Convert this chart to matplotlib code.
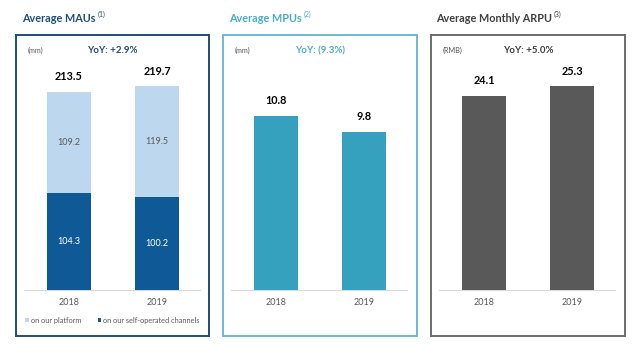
import matplotlib
matplotlib.use('Agg')
import matplotlib.pyplot as plt

plt.rcParams['font.family'] = ['Lato', 'DejaVu Sans']

years = ['2018', '2019']
mau_platform = [109.2, 119.5]
mau_self = [104.3, 100.2]
mau_total = [213.5, 219.7]
mpu = [10.8, 9.8]
arpu = [24.1, 25.3]

W, H = 640, 348
fig = plt.figure(figsize=(W / 100, H / 100), dpi=100)

# box geometry in pixels: left, right, top, bottom
def make_ax(left, right, scale):
    top, bottom = 35, 336
    ax = fig.add_axes([left / W, (H - bottom) / H, (right - left) / W, (bottom - top) / H])
    ax.set_ylim(-46 / scale, 255 / scale)
    ax.set_xlim(-53 / 88, (right - left - 53) / 88)
    ax.set_xticks([])
    ax.set_yticks([])
    ax.plot([-0.51, 1.49], [0, 0], color='#d9d9d9', lw=0.8, zorder=1)
    for i, y in enumerate(years):
        ax.text(i, 0.11, y, transform=ax.get_xaxis_transform(), ha='center', va='center',
                fontsize=6.5, color='#595959')
    return ax

def title(x, txt, sup, color):
    t = fig.text(x / W, 1 - 18 / H, txt, fontsize=7.8, fontweight='bold', color=color,
                 ha='left', va='center')
    fig.axes[0].annotate(sup, xy=(1, 1), xycoords=t, xytext=(1.5, 1.5), textcoords='offset points',
                         fontsize=5, color=color, ha='left', va='top', annotation_clip=False)

def box(ax, color):
    for s in ax.spines.values():
        s.set_color(color)
        s.set_linewidth(1.4)

def value_labels(ax, vals):
    for i, v in enumerate(vals):
        ax.annotate(f'{v:.1f}', xy=(i, v), xytext=(0, 11), textcoords='offset points',
                    ha='center', va='center', fontsize=7.8, fontweight='bold', color='black')

def header(ax, unit, yoy, color):
    ax.text(0.06, 0.95, unit, transform=ax.transAxes, fontsize=5.2, color='#595959',
            ha='left', va='center')
    ax.text(0.5, 0.947, yoy, transform=ax.transAxes, fontsize=7, fontweight='bold',
            color=color, ha='center', va='center')

x = [0, 1]

# Panel 1: MAUs
ax1 = make_ax(16, 209, 0.927)
b1 = ax1.bar(x, mau_self, width=0.5, color='#0F5A96', label='on our self-operated channels', zorder=2)
b2 = ax1.bar(x, mau_platform, width=0.5, bottom=mau_self, color='#BDD7EE', label='on our platform', zorder=2)
for i in range(2):
    ax1.text(i, mau_self[i] / 2, f'{mau_self[i]:.1f}', ha='center', va='center', fontsize=6.5, color='white')
    ax1.text(i, mau_self[i] + mau_platform[i] / 2, f'{mau_platform[i]:.1f}', ha='center', va='center',
             fontsize=6.5, color='#595959')
value_labels(ax1, mau_total)
header(ax1, '(mm)', 'YoY: +2.9%', '#1F4E79')
box(ax1, '#1F4E79')
ax1.legend(handles=[b2, b1], loc='center', bbox_to_anchor=(0.5, 0.053), ncol=2, frameon=False,
           fontsize=5.3, handlelength=0.5, handleheight=0.5, handletextpad=0.3, columnspacing=2.2,
           labelcolor='#595959')

# Panel 2: MPUs
ax2 = make_ax(223, 417, 16.1)
ax2.bar(x, mpu, width=0.5, color='#35A1BF', zorder=2)
value_labels(ax2, mpu)
header(ax2, '(mm)', 'YoY: (9.3%)', '#4BACC6')
box(ax2, '#6BBAD0')

# Panel 3: ARPU
ax3 = make_ax(431, 625, 8.05)
ax3.bar(x, arpu, width=0.5, color='#595959', zorder=2)
value_labels(ax3, arpu)
header(ax3, '(RMB)', 'YoY: +5.0%', '#404040')
box(ax3, '#6D6D6D')

title(22, 'Average MAUs', '(1)', '#1F4E79')
title(229, 'Average MPUs', '(2)', '#4BACC6')
title(436, 'Average Monthly ARPU', '(3)', '#404040')

fig.savefig('out.png', dpi=100)
